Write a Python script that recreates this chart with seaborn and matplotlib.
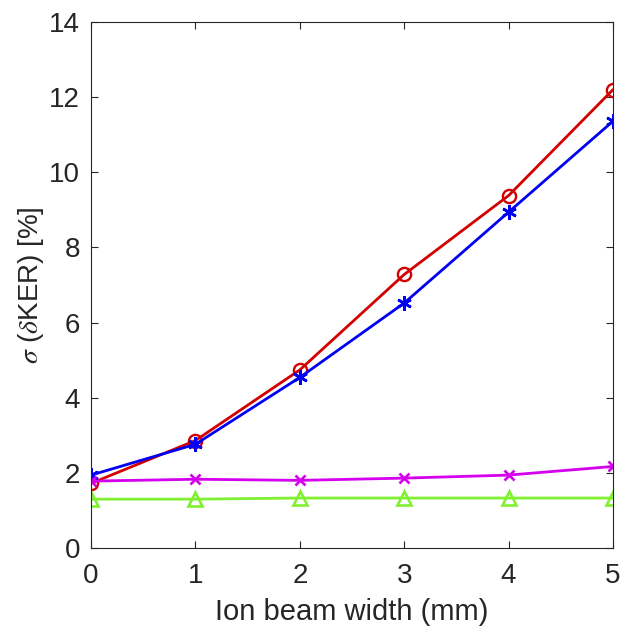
import numpy as np
import pandas as pd
import matplotlib
matplotlib.use("Agg")
import matplotlib.pyplot as plt
import seaborn as sns

beam_width = [0, 1, 2, 3, 4, 5]
red_vals = [1.72, 2.86, 4.74, 7.28, 9.38, 12.20]
blue_vals = [1.94, 2.76, 4.54, 6.52, 8.94, 11.36]
magenta_vals = [1.78, 1.83, 1.80, 1.86, 1.94, 2.17]
green_vals = [1.30, 1.30, 1.33, 1.33, 1.33, 1.33]

sns.set_theme(style="white")
plt.rcParams['font.family'] = ['Liberation Sans', 'DejaVu Sans']
plt.rcParams['mathtext.fontset'] = 'stix'

fig = plt.figure(figsize=(6.33, 6.26), dpi=100)
ax = fig.add_axes([0.1438, 0.1246, 0.8246, 0.8403])

series = [
    (red_vals, "#D40000", "o", dict(markerfacecolor="none", markersize=9.5, markeredgewidth=1.7)),
    (blue_vals, "#0000F5", (6, 2, 0), dict(markersize=10.5, markeredgewidth=1.9)),
    (magenta_vals, "#D400EE", "x", dict(markersize=7.5, markeredgewidth=1.9)),
    (green_vals, "#80F030", "^", dict(markerfacecolor="none", markersize=9.5, markeredgewidth=1.9)),
]

for vals, color, marker, kw in series:
    df = pd.DataFrame({"w": beam_width, "s": vals})
    sns.lineplot(data=df, x="w", y="s", ax=ax, color=color, marker=marker,
                 linewidth=2.0, markeredgecolor=color, **kw)

ax.set_xlim(0, 5)
ax.set_ylim(0, 14)
ax.set_xticks(range(0, 6))
ax.set_yticks(range(0, 15, 2))

for side in ["top", "bottom", "left", "right"]:
    ax.spines[side].set_visible(True)
    ax.spines[side].set_color("#262626")
    ax.spines[side].set_linewidth(0.8)

ax.tick_params(direction="in", length=5, width=0.8, colors="#262626",
               labelsize=20, top=True, right=True, bottom=True, left=True,
               labelcolor="#262626")
ax.tick_params(axis="x", pad=11)
ax.tick_params(axis="y", pad=8)

ax.set_xlabel("Ion beam width (mm)", fontsize=21, color="#262626", labelpad=6)
ax.set_ylabel(r"$\sigma$ ($\delta$KER) [%]", fontsize=20, color="#262626", labelpad=2)
ax.grid(False)

fig.savefig("out.png", dpi=100, facecolor="white")
